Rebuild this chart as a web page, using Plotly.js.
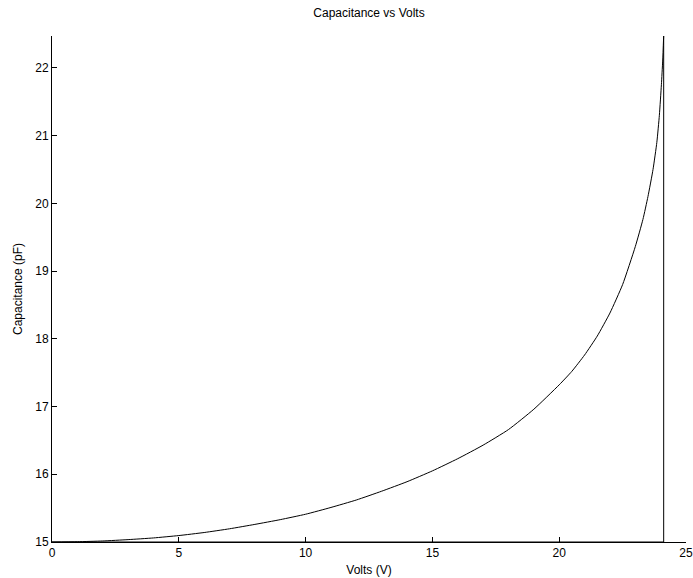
<!DOCTYPE html>
<html>
<head>
<meta charset="utf-8">
<script src="https://cdn.plot.ly/plotly-3.0.1.min.js"></script>
<style>html,body{margin:0;padding:0;background:#fff;}#chart{width:693px;height:578px;}</style>
</head>
<body>
<div id="chart"></div>
<script>
// Rising curve: Volts (V) and Capacitance (pF)
const volts = [0, 1, 2, 3, 4, 5, 6, 7, 8, 9, 10, 11, 12, 13, 14, 15, 16, 17, 18, 19, 20, 20.5, 21, 21.5, 22, 22.5, 23.0, 23.3, 23.5, 23.7, 23.85, 23.95, 24.03, 24.08, 24.12];
const capacitance = [15.00, 15.004, 15.015, 15.035, 15.06, 15.095, 15.14, 15.195, 15.26, 15.33, 15.41, 15.51, 15.62, 15.75, 15.89, 16.05, 16.23, 16.43, 16.66, 16.96, 17.32, 17.52, 17.76, 18.04, 18.38, 18.80, 19.36, 19.76, 20.10, 20.50, 20.90, 21.30, 21.75, 22.10, 22.47];
// Drop back to baseline and return along 15 pF
const dropVolts = [24.12, 24.12, 0];
const dropCapacitance = [22.47, 15.00, 15.00];
const xTicks = [0, 5, 10, 15, 20, 25];
const yTicks = [15, 16, 17, 18, 19, 20, 21, 22];

const font = {family: 'Liberation Sans, Arial, Helvetica, sans-serif', size: 12, color: '#000'};

Plotly.newPlot('chart', [{
  x: volts, y: capacitance, type: 'scatter', mode: 'lines',
  line: {color: '#000', width: 1, shape: 'spline', smoothing: 0.5}, hoverinfo: 'none', showlegend: false
}, {
  x: dropVolts, y: dropCapacitance, type: 'scatter', mode: 'lines',
  line: {color: '#000', width: 1}, hoverinfo: 'none', showlegend: false
}], {
  width: 693, height: 578,
  margin: {l: 52, r: 7, t: 36, b: 36, pad: 0},
  paper_bgcolor: '#fff', plot_bgcolor: '#fff',
  font: font,
  title: {text: 'Capacitance vs Volts', font: font, x: 0.5325, xanchor: 'center', y: 0.977, yanchor: 'middle'},
  xaxis: {
    range: [0, 25], tickvals: xTicks, ticktext: xTicks.map(String),
    ticks: 'inside', ticklen: 5, tickcolor: '#000', tickwidth: 1,
    showline: true, linecolor: '#000', linewidth: 1, mirror: false,
    showgrid: false, zeroline: false, tickfont: font,
    title: {text: 'Volts (V)', font: font, standoff: 6}
  },
  yaxis: {
    range: [15, 22.47], tickvals: yTicks, ticktext: yTicks.map(String),
    ticks: 'inside', ticklen: 5, tickcolor: '#000', tickwidth: 1,
    showline: true, linecolor: '#000', linewidth: 1, mirror: false,
    showgrid: false, zeroline: false, tickfont: font,
    title: {text: 'Capacitance (pF)', font: font, standoff: 10}
  }
}, {displayModeBar: false, staticPlot: true});
</script>
</body>
</html>
